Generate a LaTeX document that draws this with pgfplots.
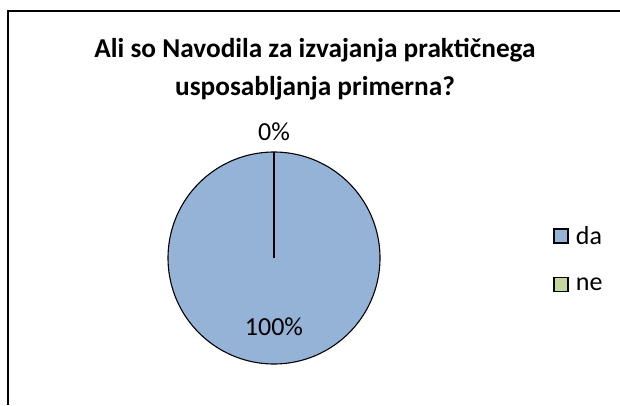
\documentclass[border=0pt]{standalone}
\usepackage{pgfplots}
\pgfplotsset{compat=1.18}
\usepackage{pgfplotstable}
\usepackage{fontspec}
\setmainfont{Carlito}
\definecolor{pieblue}{HTML}{95B3D7}
\definecolor{piegreen}{HTML}{C3D69B}
\pgfplotsset{sqlegend/.style={legend image code/.code={\draw[##1, line width=1.4bp] (0bp,-7bp) rectangle (14bp,7bp);\path[draw=none,fill=none] (20bp,0bp);}}}
% category, percent
\pgfplotstableread{
cat val
da 100
ne 0
}\piedata
\begin{document}
\begin{tikzpicture}
\begin{axis}[
  width=620bp, height=405bp, scale only axis,
  xmin=0, xmax=620, ymin=0, ymax=405,
  hide axis, clip=false,
  legend style={draw=none, fill=none, at={(axis cs:553,181)}, anchor=north west,
    font=\fontsize{26bp}{30bp}\selectfont, row sep=28bp, inner sep=0pt,
    /tikz/every even column/.append style={column sep=0bp},
    /tikz/every odd column/.append style={column sep=0bp},
    nodes={inner sep=2bp}},
  legend cell align=left,
]
\coordinate (bl) at (axis cs:0,0);
\coordinate (tr) at (axis cs:620,405);
% frame (only top and left edges visible)
\addplot[black, line width=1.6bp, forget plot] coordinates {(8,0) (8,394) (620,394)};
% slice "da" = 100%  (sweep angle 3.6*100 degrees)
\addplot[fill=pieblue, draw=black, line width=1.1bp, domain=0:100, samples=181, smooth, sqlegend]
  ({274+106*sin(3.6*x)}, {147+106*cos(3.6*x)}) -- cycle;
\addlegendentry{da}
% slice "ne" = 0% : degenerate wedge = radius line
\addplot[fill=piegreen, draw=black, line width=1.5bp, sqlegend]
  coordinates {(274,147) (274,253)};
\addlegendentry{ne}
\node[font=\fontsize{26bp}{30bp}\selectfont] at (axis cs:274,273) {0\%};
\node[font=\fontsize{26bp}{30bp}\selectfont] at (axis cs:274,78) {100\%};
\node[font=\bfseries\fontsize{27.3bp}{38bp}\selectfont, align=center] at (axis cs:315,336)
  {Ali so Navodila za izvajanja praktičnega\\usposabljanja primerna?};
\end{axis}
\pgfresetboundingbox
\path[use as bounding box] (bl) rectangle (tr);
\end{tikzpicture}
\end{document}
